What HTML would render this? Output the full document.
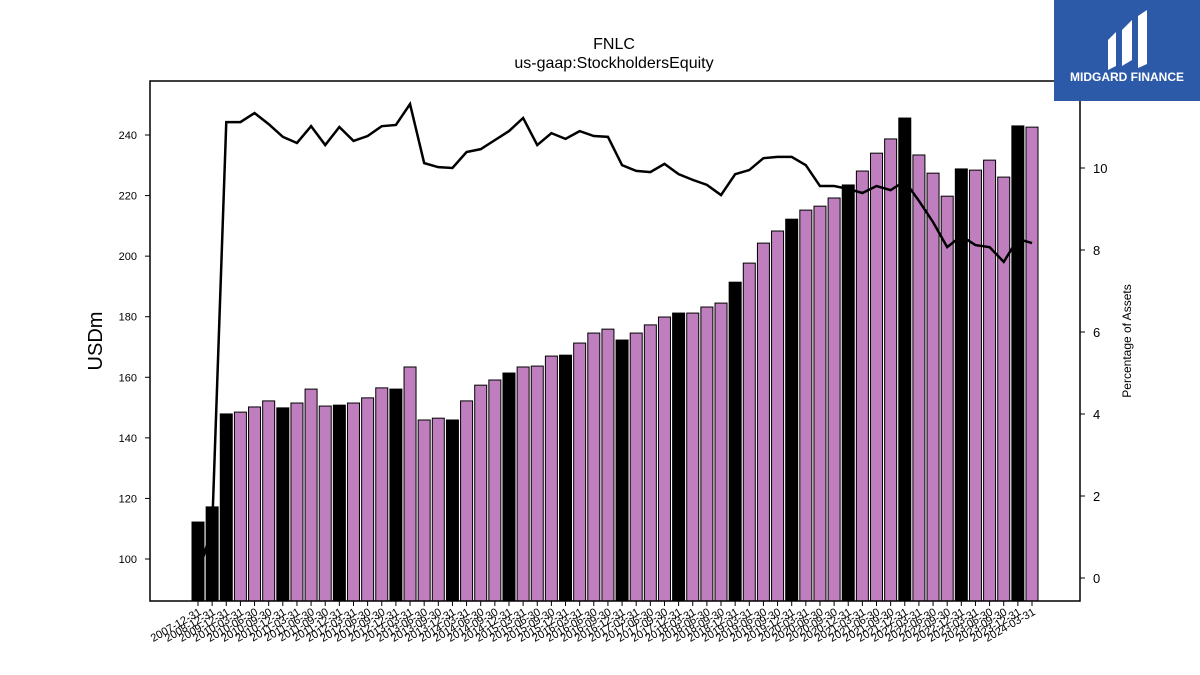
<!DOCTYPE html>
<html><head><meta charset="utf-8"><style>
body{margin:0;background:#fff;font-family:"Liberation Sans","DejaVu Sans",sans-serif}
svg{display:block}
</style></head><body>
<svg id="c" width="1200" height="675" xmlns="http://www.w3.org/2000/svg">
<text x="614" y="49" font-size="16" text-anchor="middle">FNLC</text>
<text x="614" y="68" font-size="16" text-anchor="middle">us-gaap:StockholdersEquity</text>
<text transform="translate(102,341) rotate(-90)" font-size="20" text-anchor="middle">USDm</text>
<text transform="translate(1131,341) rotate(-90)" font-size="12" text-anchor="middle">Percentage of Assets</text>
<g id="bars"></g>
<g id="line"></g>
<g id="axes"></g>
<rect x="150" y="81" width="930" height="520" fill="none" stroke="#000" stroke-width="1.5"/>
<g>
<rect x="1054" y="0" width="146" height="101" fill="#2c5aa9"/>
<path d="M1108 40 L1116 32 L1116 66 L1108 70 Z M1122 30 L1132 20 L1132 60 L1122 66 Z M1138 16 L1147 10 L1147 64 L1138 68 Z" fill="#fff"/>
<text x="1127" y="81" font-size="12" font-weight="bold" fill="#fff" text-anchor="middle">MIDGARD FINANCE</text>
</g>
</svg>
<script>
const categories=["2007-12-31","2008-12-31"];
(function(){for(let y=2009;y<=2024;y++){for(const q of ["03-31","06-30","09-30","12-31"]){const d=y+"-"+q;if(d>="2009-12-31"&&d<="2024-03-31")categories.push(d);}}})();
const equity=[112.2,117.2,147.9,148.5,150.2,152.2,149.9,151.5,156.1,150.5,150.8,151.5,153.2,156.5,156.1,163.4,145.9,146.5,145.9,152.2,157.4,159.1,161.4,163.4,163.7,167.0,167.3,171.3,174.6,175.9,172.3,174.6,177.3,179.9,181.2,181.2,183.2,184.5,191.4,197.7,204.3,208.3,212.2,215.2,216.5,219.2,223.5,228.1,234.0,238.7,245.6,233.4,227.4,219.8,228.8,228.4,231.7,226.1,243.0,242.6];
const pctAssets=[0.1,1.2,11.12,11.12,11.34,11.07,10.76,10.61,11.02,10.56,11.0,10.66,10.78,11.02,11.05,11.56,10.12,10.02,10.0,10.39,10.46,10.68,10.9,11.22,10.56,10.85,10.71,10.9,10.78,10.76,10.07,9.93,9.9,10.1,9.85,9.71,9.59,9.34,9.85,9.95,10.24,10.27,10.27,10.07,9.56,9.56,9.49,9.39,9.56,9.46,9.68,9.2,8.68,8.07,8.34,8.12,8.07,7.71,8.27,8.17];
const leftTicks=[100,120,140,160,180,200,220,240];
const rightTicks=[0,2,4,6,8,10];
const NS="http://www.w3.org/2000/svg";
const yL=v=>559-(v-100)*(424/140);
const yR=v=>578-v*41;
const xC=i=>198+i*(834/(categories.length-1));
const bw=12;
function mk(t,a,p){const e=document.createElementNS(NS,t);for(const k in a)e.setAttribute(k,a[k]);p.appendChild(e);return e;}
const gb=document.getElementById('bars'),gl=document.getElementById('line'),ga=document.getElementById('axes');
categories.forEach((c,i)=>{
 const top=yL(equity[i]);
 const r=mk('rect',{x:xC(i)-bw/2,y:top,width:bw,height:601-top,fill:c.endsWith("12-31")?"#000":"#bf7fbf",stroke:"#000","stroke-width":1},gb);
 
 
 const t=mk('line',{x1:xC(i),x2:xC(i),y1:601,y2:606,stroke:"#000"},ga);
 
 
 const lb=mk('text',{transform:`translate(${xC(i)+4},${614}) rotate(-30)`,"font-size":11,"text-anchor":"end"},ga);
 lb.textContent=c;
 
 
});
const p=mk('polyline',{points:pctAssets.map((v,i)=>xC(i)+","+yR(v)).join(" "),fill:"none",stroke:"#000","stroke-width":2.5},gl);


leftTicks.forEach(v=>{
 const t=mk('line',{x1:145,x2:150,y1:yL(v),y2:yL(v),stroke:"#000"},ga);
 
 
 const l=mk('text',{x:137,y:yL(v)+4,"font-size":11,"text-anchor":"end"},ga);
 l.textContent=v;
 
 
});
rightTicks.forEach(v=>{
 const t=mk('line',{x1:1080,x2:1085,y1:yR(v),y2:yR(v),stroke:"#000"},ga);
 
 
 const l=mk('text',{x:1093,y:yR(v)+5,"font-size":13},ga);
 l.textContent=v;
 
 
});
</script>
</body></html>
